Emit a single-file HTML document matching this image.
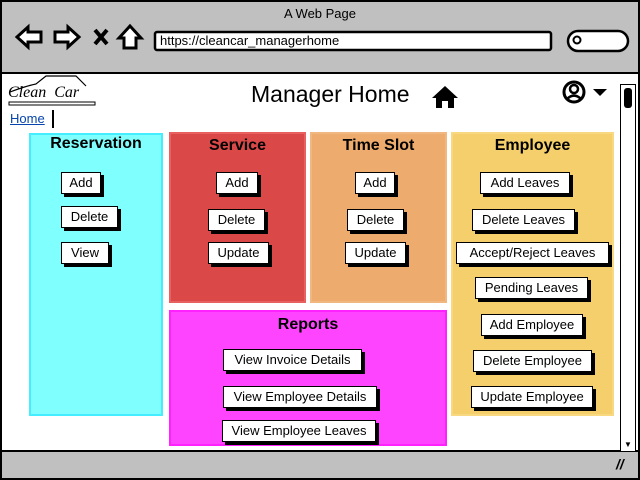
<!DOCTYPE html>
<html><head><meta charset="utf-8"><style>
*{margin:0;padding:0;box-sizing:border-box}
body{width:640px;height:480px;background:#fff;position:relative;overflow:hidden;font-family:"Liberation Sans",sans-serif}
.a{position:absolute}
.btn{position:absolute;background:#fff;border:1.5px solid #000;box-shadow:3px 3px 0 #000;font-size:13px;text-align:center;line-height:19px;height:22px;white-space:nowrap}
.panel{position:absolute}
.t{position:absolute;left:0;right:0;text-align:center;font-weight:bold;font-size:16px}
</style></head><body>
<div class="a" style="left:0;top:0;width:640px;height:480px;border:2px solid #000;background:#c0c0c0"></div>
<div class="a" style="left:0;top:6px;width:640px;text-align:center;font-size:13px">A Web Page</div>
<svg class="a" style="left:0;top:0" width="640" height="72">
<path d="M17,37 L28,27 L28,32 L41,32 L41,42 L28,42 L28,47 Z" fill="#fff" stroke="#000" stroke-width="3"/>
<path d="M79,37 L68,27 L68,32 L55,32 L55,42 L68,42 L68,47 Z" fill="#fff" stroke="#000" stroke-width="3"/>
<path d="M95,30 L107,44 M107,30 L95,44" stroke="#000" stroke-width="4"/>
<path d="M130,26 L141,38 L136,38 L136,48 L124,48 L124,38 L119,38 Z" fill="#fff" stroke="#000" stroke-width="3"/>
<rect x="155" y="32" width="396" height="18" rx="2" fill="#fff" stroke="#000" stroke-width="2.5"/>
<rect x="568" y="31" width="60" height="20" rx="10" fill="#fff" stroke="#000" stroke-width="2.5"/>
<circle cx="577" cy="40" r="3.5" fill="none" stroke="#000" stroke-width="2"/>
</svg>
<div class="a" style="left:160px;top:33px;font-size:13px">https://cleancar_managerhome</div>
<div class="a" style="left:2px;top:72px;width:636px;height:380px;background:#fff;border-top:2px solid #000;border-bottom:2px solid #000"></div>
<div class="a" style="left:620px;top:84px;width:16px;height:368px;border:1.5px solid #000;background:#fff"></div>
<div class="a" style="left:624px;top:88px;width:8px;height:20px;background:#000;border-radius:3px"></div>
<div class="a" style="left:622px;top:440px;width:12px;height:10px;font-size:8px;text-align:center">▼</div>
<div class="a" style="left:8px;top:84px;font-family:'Liberation Serif',serif;font-style:italic;font-size:16px">Clean&nbsp;&nbsp;Car</div>
<svg class="a" style="left:6px;top:74px" width="90" height="36"><path d="M4,18 Q20,12 30,10 L40,2 L70,2 L80,12" fill="none" stroke="#000" stroke-width="1.2"/><rect x="3" y="28" width="86" height="3" fill="none" stroke="#000"/></svg>
<div class="a" style="left:10px;top:111px;font-size:13px;color:#0645ad;text-decoration:underline">Home</div>
<div class="a" style="left:52px;top:110px;width:1.5px;height:18px;background:#000"></div>
<div class="a" style="left:251px;top:81px;font-size:23px">Manager Home</div>
<svg class="a" style="left:430px;top:84px" width="30" height="26"><path d="M15,2 L28,14 L24,14 L24,24 L18,24 L18,17 L12,17 L12,24 L6,24 L6,14 L2,14 Z" fill="#000"/></svg>
<svg class="a" style="left:562px;top:80px" width="46" height="26"><circle cx="12" cy="12" r="10" fill="#fff" stroke="#000" stroke-width="3"/><circle cx="12" cy="9" r="4" fill="none" stroke="#000" stroke-width="2.5"/><path d="M5,19 Q12,12 19,19" fill="none" stroke="#000" stroke-width="2.5"/><path d="M31,9 L45,9 L38,16 Z" fill="#000"/></svg>

<div class="panel" style="left:29px;top:133px;width:134px;height:283px;background:#80ffff;border:2px solid #44eeff"><div class="t" style="top:0">Reservation</div></div>
<div class="panel" style="left:169px;top:132px;width:137px;height:171px;background:#db4848;border:2px solid #e86060"><div class="t" style="top:3px">Service</div></div>
<div class="panel" style="left:310px;top:132px;width:137px;height:171px;background:#edab6e;border:2px solid #f0b880"><div class="t" style="top:3px">Time Slot</div></div>
<div class="panel" style="left:451px;top:132px;width:163px;height:284px;background:#f4cf6b;border:2px solid #f8d880"><div class="t" style="top:3px">Employee</div></div>
<div class="panel" style="left:169px;top:310px;width:278px;height:136px;background:#ff44ff;border:2px solid #ff22ff"><div class="t" style="top:4px">Reports</div></div>

<div class="btn" style="left:61px;top:172px;width:40px">Add</div>
<div class="btn" style="left:61px;top:206px;width:57px">Delete</div>
<div class="btn" style="left:61px;top:242px;width:48px">View</div>
<div class="btn" style="left:216px;top:172px;width:42px">Add</div>
<div class="btn" style="left:208px;top:209px;width:57px">Delete</div>
<div class="btn" style="left:208px;top:242px;width:61px">Update</div>
<div class="btn" style="left:355px;top:172px;width:40px">Add</div>
<div class="btn" style="left:347px;top:209px;width:57px">Delete</div>
<div class="btn" style="left:345px;top:242px;width:61px">Update</div>
<div class="btn" style="left:480px;top:172px;width:90px">Add Leaves</div>
<div class="btn" style="left:472px;top:209px;width:103px">Delete Leaves</div>
<div class="btn" style="left:456px;top:242px;width:153px">Accept/Reject Leaves</div>
<div class="btn" style="left:475px;top:277px;width:113px">Pending Leaves</div>
<div class="btn" style="left:481px;top:314px;width:102px">Add Employee</div>
<div class="btn" style="left:473px;top:350px;width:119px">Delete Employee</div>
<div class="btn" style="left:471px;top:386px;width:122px">Update Employee</div>
<div class="btn" style="left:223px;top:349px;width:139px">View Invoice Details</div>
<div class="btn" style="left:223px;top:386px;width:154px">View Employee Details</div>
<div class="btn" style="left:222px;top:420px;width:154px">View Employee Leaves</div>
<div class="a" style="left:616px;top:456px;font-size:14px;font-weight:bold;font-style:italic">//</div>
</body></html>
